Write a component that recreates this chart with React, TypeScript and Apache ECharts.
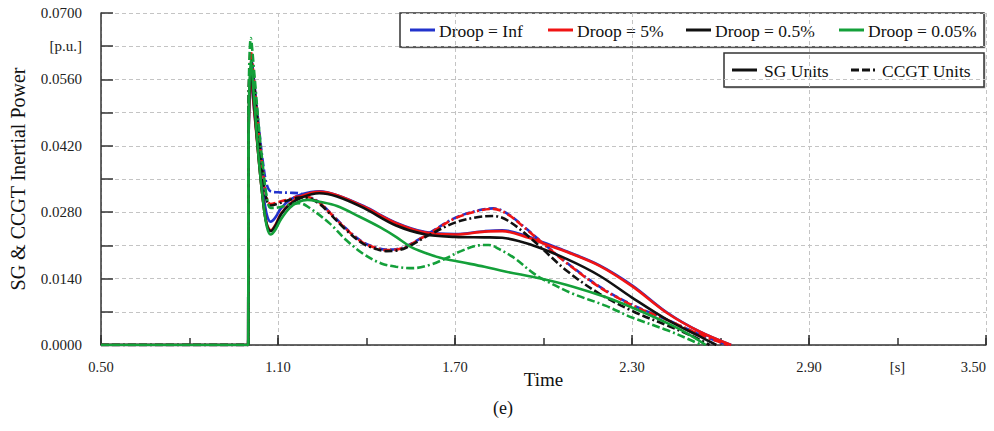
import React, { useEffect, useRef } from "react";
import * as echarts from "echarts";

type Pt = [number, number];

// SG units (solid)
const sgInf: Pt[] = [
  [0.5, 0], [0.99, 0], [0.999, 0], [1.0, 0.040], [1.008, 0.056], [1.02, 0.049], [1.035, 0.040], [1.05, 0.032],
  [1.062, 0.0275], [1.075, 0.026], [1.09, 0.0268], [1.11, 0.0288], [1.14, 0.0306], [1.18, 0.0318],
  [1.24, 0.0324], [1.3, 0.0316], [1.39, 0.0293], [1.5, 0.0258], [1.6, 0.0238], [1.7, 0.0234],
  [1.8, 0.024], [1.86, 0.0242], [1.95, 0.0228], [2.0, 0.0216], [2.08, 0.0197], [2.19, 0.0168],
  [2.3, 0.0126], [2.42, 0.0068], [2.53, 0.0028], [2.636, 0],
];
const sg5: Pt[] = [
  [0.5, 0], [0.99, 0], [0.999, 0], [1.0, 0.040], [1.008, 0.057], [1.02, 0.049], [1.035, 0.039], [1.05, 0.030],
  [1.062, 0.0255], [1.076, 0.0242], [1.09, 0.0252], [1.11, 0.0277], [1.14, 0.0298], [1.18, 0.0314],
  [1.24, 0.0323], [1.3, 0.0316], [1.39, 0.0292], [1.5, 0.0257], [1.6, 0.0237], [1.7, 0.0233],
  [1.8, 0.0239], [1.86, 0.024], [1.95, 0.0226], [2.0, 0.0214], [2.08, 0.0196], [2.19, 0.0167],
  [2.3, 0.0124], [2.42, 0.0067], [2.53, 0.0028], [2.636, 0],
];
const sg05: Pt[] = [
  [0.5, 0], [0.99, 0], [0.999, 0], [1.0, 0.041], [1.008, 0.058], [1.02, 0.050], [1.035, 0.039], [1.05, 0.030],
  [1.062, 0.0254], [1.076, 0.024], [1.09, 0.025], [1.11, 0.0275], [1.14, 0.0296], [1.18, 0.0311],
  [1.24, 0.032], [1.3, 0.0313], [1.39, 0.0289], [1.5, 0.0252], [1.6, 0.0233], [1.7, 0.0228],
  [1.8, 0.0227], [1.86, 0.0226], [1.96, 0.0211], [2.08, 0.0181], [2.19, 0.0146], [2.3, 0.0100],
  [2.42, 0.0053], [2.53, 0.0018], [2.586, 0],
];
const sg005: Pt[] = [
  [0.5, 0], [0.99, 0], [0.999, 0], [1.0, 0.042], [1.008, 0.060], [1.02, 0.051], [1.035, 0.039], [1.05, 0.030],
  [1.062, 0.025], [1.075, 0.0233], [1.09, 0.0242], [1.11, 0.0265], [1.14, 0.0289], [1.17, 0.0302],
  [1.2, 0.0306], [1.24, 0.0302], [1.3, 0.0293], [1.375, 0.0271], [1.45, 0.0247], [1.5, 0.0228],
  [1.55, 0.0207], [1.6, 0.0194], [1.65, 0.0184], [1.72, 0.0175], [1.8, 0.0165], [1.87, 0.0155],
  [1.99, 0.014], [2.1, 0.0123], [2.21, 0.0101], [2.3, 0.0079], [2.42, 0.0046], [2.5, 0.002], [2.55, 0],
];

// CCGT units (dashed)
const ccgtInf: Pt[] = [
  [0.5, 0], [0.99, 0], [0.999, 0], [1.0, 0.046], [1.008, 0.061], [1.02, 0.055], [1.035, 0.046], [1.05, 0.038],
  [1.062, 0.0338], [1.075, 0.0324], [1.1, 0.0322], [1.14, 0.0321], [1.17, 0.032], [1.2, 0.0314],
  [1.24, 0.0301], [1.274, 0.0281], [1.33, 0.0246], [1.387, 0.0217], [1.43, 0.0206], [1.466, 0.0201],
  [1.5, 0.0202], [1.534, 0.0208], [1.613, 0.0236], [1.7, 0.0268], [1.78, 0.0284], [1.83, 0.0288],
  [1.88, 0.0276], [1.94, 0.0246], [2.0, 0.0214], [2.08, 0.0173], [2.19, 0.0123], [2.3, 0.0085],
  [2.42, 0.0053], [2.53, 0.0022], [2.625, 0],
];
const ccgt5: Pt[] = [
  [0.5, 0], [0.99, 0], [0.999, 0], [1.0, 0.046], [1.008, 0.062], [1.02, 0.055], [1.035, 0.045], [1.05, 0.036],
  [1.062, 0.031], [1.075, 0.0297], [1.1, 0.0301], [1.14, 0.0308], [1.17, 0.0313], [1.2, 0.0312],
  [1.24, 0.03], [1.274, 0.028], [1.33, 0.0245], [1.387, 0.0216], [1.43, 0.0205], [1.466, 0.02],
  [1.5, 0.0201], [1.534, 0.0207], [1.613, 0.0235], [1.7, 0.0267], [1.78, 0.0283], [1.83, 0.0287],
  [1.88, 0.0275], [1.94, 0.0245], [2.0, 0.0213], [2.08, 0.0172], [2.19, 0.0122], [2.3, 0.0084],
  [2.42, 0.0053], [2.53, 0.0022], [2.625, 0],
];
const ccgt05: Pt[] = [
  [0.5, 0], [0.99, 0], [0.999, 0], [1.0, 0.048], [1.008, 0.060], [1.02, 0.054], [1.035, 0.044], [1.05, 0.035],
  [1.062, 0.0305], [1.075, 0.0294], [1.1, 0.0298], [1.14, 0.0306], [1.17, 0.0311], [1.2, 0.031],
  [1.24, 0.0298], [1.274, 0.0278], [1.33, 0.0243], [1.387, 0.0214], [1.43, 0.0203], [1.466, 0.0198],
  [1.5, 0.0199], [1.534, 0.0205], [1.613, 0.0232], [1.7, 0.0258], [1.78, 0.027], [1.83, 0.0272],
  [1.88, 0.0262], [1.96, 0.0223], [2.08, 0.0156], [2.19, 0.0108], [2.3, 0.0072], [2.42, 0.0041],
  [2.5, 0.002], [2.563, 0],
];
const ccgt005: Pt[] = [
  [0.5, 0], [0.99, 0], [0.999, 0], [1.0, 0.048], [1.008, 0.0647], [1.02, 0.057], [1.035, 0.046], [1.05, 0.037],
  [1.062, 0.0312], [1.075, 0.0289], [1.1, 0.029], [1.14, 0.0296], [1.172, 0.0299], [1.2, 0.0292],
  [1.274, 0.0257], [1.33, 0.0222], [1.387, 0.0193], [1.45, 0.0172], [1.5, 0.0165], [1.557, 0.0162],
  [1.62, 0.017], [1.67, 0.0183], [1.72, 0.0198], [1.78, 0.021], [1.815, 0.0211], [1.85, 0.0202],
  [1.9, 0.0184], [1.964, 0.0152], [2.0, 0.0138], [2.1, 0.0108], [2.21, 0.0083], [2.3, 0.0058],
  [2.42, 0.0031], [2.5, 0.001], [2.535, 0],
];

const droopNames = ["Droop = Inf", "Droop = 5%", "Droop = 0.5%", "Droop = 0.05%"];
const droopColors = ["#2233cc", "#f01414", "#111111", "#14a03a"];
const sgSeries = [sgInf, sg5, sg05, sg005];
const ccgtSeries = [ccgtInf, ccgt5, ccgt05, ccgt005];
const unitNames = ["SG Units", "CCGT Units"];

const xTicks = [0.5, 1.1, 1.7, 2.3, 2.9, 3.5];

const SERIF = "'Liberation Serif', 'Times New Roman', serif";
const DASH = [8, 3, 8, 3, 2, 3];

function legendBox(x: number, y: number, w: number, h: number, items: { x: number; tx: number; name: string; color: string; dash: number[] | null }[]) {
  const children: any[] = [
    { type: "rect", shape: { x: x + 1.5, y: y + 1.5, width: w, height: h }, style: { fill: "#999", opacity: 0.6 } },
    { type: "rect", shape: { x, y, width: w, height: h }, style: { fill: "#fff", stroke: "#333", lineWidth: 1.5 } },
  ];
  const cy = y + h / 2;
  items.forEach((it) => {
    children.push({
      type: "line",
      shape: { x1: it.x, y1: cy, x2: it.x + 25, y2: cy },
      style: { stroke: it.color, lineWidth: 3, lineDash: it.dash || undefined },
    });
    children.push({
      type: "text", x: it.tx, y: cy + 0.5,
      style: { text: it.name, fontFamily: SERIF, fontSize: 17.5, fill: "#111", verticalAlign: "middle", align: "left" },
    });
  });
  return { type: "group", z: 100, children };
}

export default function App() {
  const ref = useRef<HTMLDivElement>(null);
  useEffect(() => {
    document.body.style.margin = "0";
    if (!ref.current) return;
    const chart = echarts.init(ref.current, undefined, { renderer: "svg" });

    const series: any[] = [];
    droopNames.forEach((name, i) => {
      series.push({
        name, type: "line", data: sgSeries[i], symbol: "none", smooth: 0.35,
        color: droopColors[i], lineStyle: { width: 2.6, color: droopColors[i], type: "solid" },
        z: 2 + i,
      });
      series.push({
        name, type: "line", data: ccgtSeries[i], symbol: "none", smooth: 0.35,
        color: droopColors[i], lineStyle: { width: 2.6, color: droopColors[i], type: DASH },
        z: 2 + i,
      });
    });

    const leg1X = [410, 548, 686, 839];
    const leg2X = [732, 851];

    chart.setOption({
      animation: false,
      backgroundColor: "#fff",
      grid: { left: 101, right: 8, top: 13, bottom: 86, containLabel: false, outerBoundsMode: "none" },
      xAxis: [
        {
          type: "value", min: 0.5, max: 3.5, interval: 0.6,
          name: "Time", nameLocation: "middle", nameGap: 25, nameMoveOverlap: false,
          nameTextStyle: { fontFamily: SERIF, fontSize: 19, color: "#111" },
          axisLine: { show: true, lineStyle: { color: "#333", width: 1.5 } },
          axisTick: { show: true, inside: true, length: 10, lineStyle: { color: "#333", width: 1.5 } },
          axisLabel: {
            margin: 14, fontFamily: SERIF, fontSize: 14.5, color: "#222", alignMaxLabel: "right",
            formatter: (v: number) => {
              const t = xTicks.find((x) => Math.abs(x - v) < 1e-6);
              return t !== undefined ? t.toFixed(2) : "";
            },
          },
          splitLine: { show: true, lineStyle: { color: "#c4c4c4", type: [4, 3], width: 1 } },
        },
        {
          type: "value", min: 0.5, max: 3.5, interval: 0.3, position: "bottom",
          axisLine: { show: false },
          axisTick: { show: true, inside: true, length: 7, lineStyle: { color: "#333", width: 1.5 } },
          axisLabel: {
            margin: 14, fontFamily: SERIF, fontSize: 14.5, color: "#222",
            formatter: (v: number) => (Math.abs(v - 3.2) < 1e-6 ? "[s]" : ""),
          },
          splitLine: { show: false },
        },
      ],
      yAxis: {
        type: "value", min: 0, max: 0.07, interval: 0.007,
        name: "SG & CCGT Inertial Power", nameLocation: "middle", nameGap: 73, nameMoveOverlap: false,
        nameTextStyle: { fontFamily: SERIF, fontSize: 20, color: "#111" },
        axisLine: { show: true, lineStyle: { color: "#333", width: 1.5 } },
        axisTick: { show: true, inside: true, length: 12, lineStyle: { color: "#333", width: 1.5 } },
        axisLabel: {
          margin: 19, fontFamily: SERIF, fontSize: 15, color: "#222",
          formatter: (v: number) => {
            const i = Math.round(v / 0.007);
            if (i === 9) return "[p.u.]";
            if (i % 2 === 1) return "";
            return v.toFixed(4);
          },
        },
        splitLine: { show: true, lineStyle: { color: "#c4c4c4", type: [4, 3], width: 1 } },
      },
      graphic: [
        legendBox(400, 13, 584, 34, droopNames.map((n, i) => ({
          x: leg1X[i], tx: leg1X[i] + 29, name: n, color: droopColors[i], dash: null,
        }))),
        legendBox(724, 53, 260, 34, unitNames.map((n, i) => ({
          x: leg2X[i], tx: leg2X[i] + (i === 0 ? 32 : 31), name: n, color: "#111", dash: i === 0 ? null : DASH,
        }))),
        {
          type: "text", x: 503, y: 408, z: 100,
          style: { text: "(e)", fontFamily: SERIF, fontSize: 18, fill: "#111", align: "center", verticalAlign: "middle" },
        },
      ],
      series,
    });
    return () => chart.dispose();
  }, []);
  return <div ref={ref} style={{ width: 994, height: 431 }} />;
}
